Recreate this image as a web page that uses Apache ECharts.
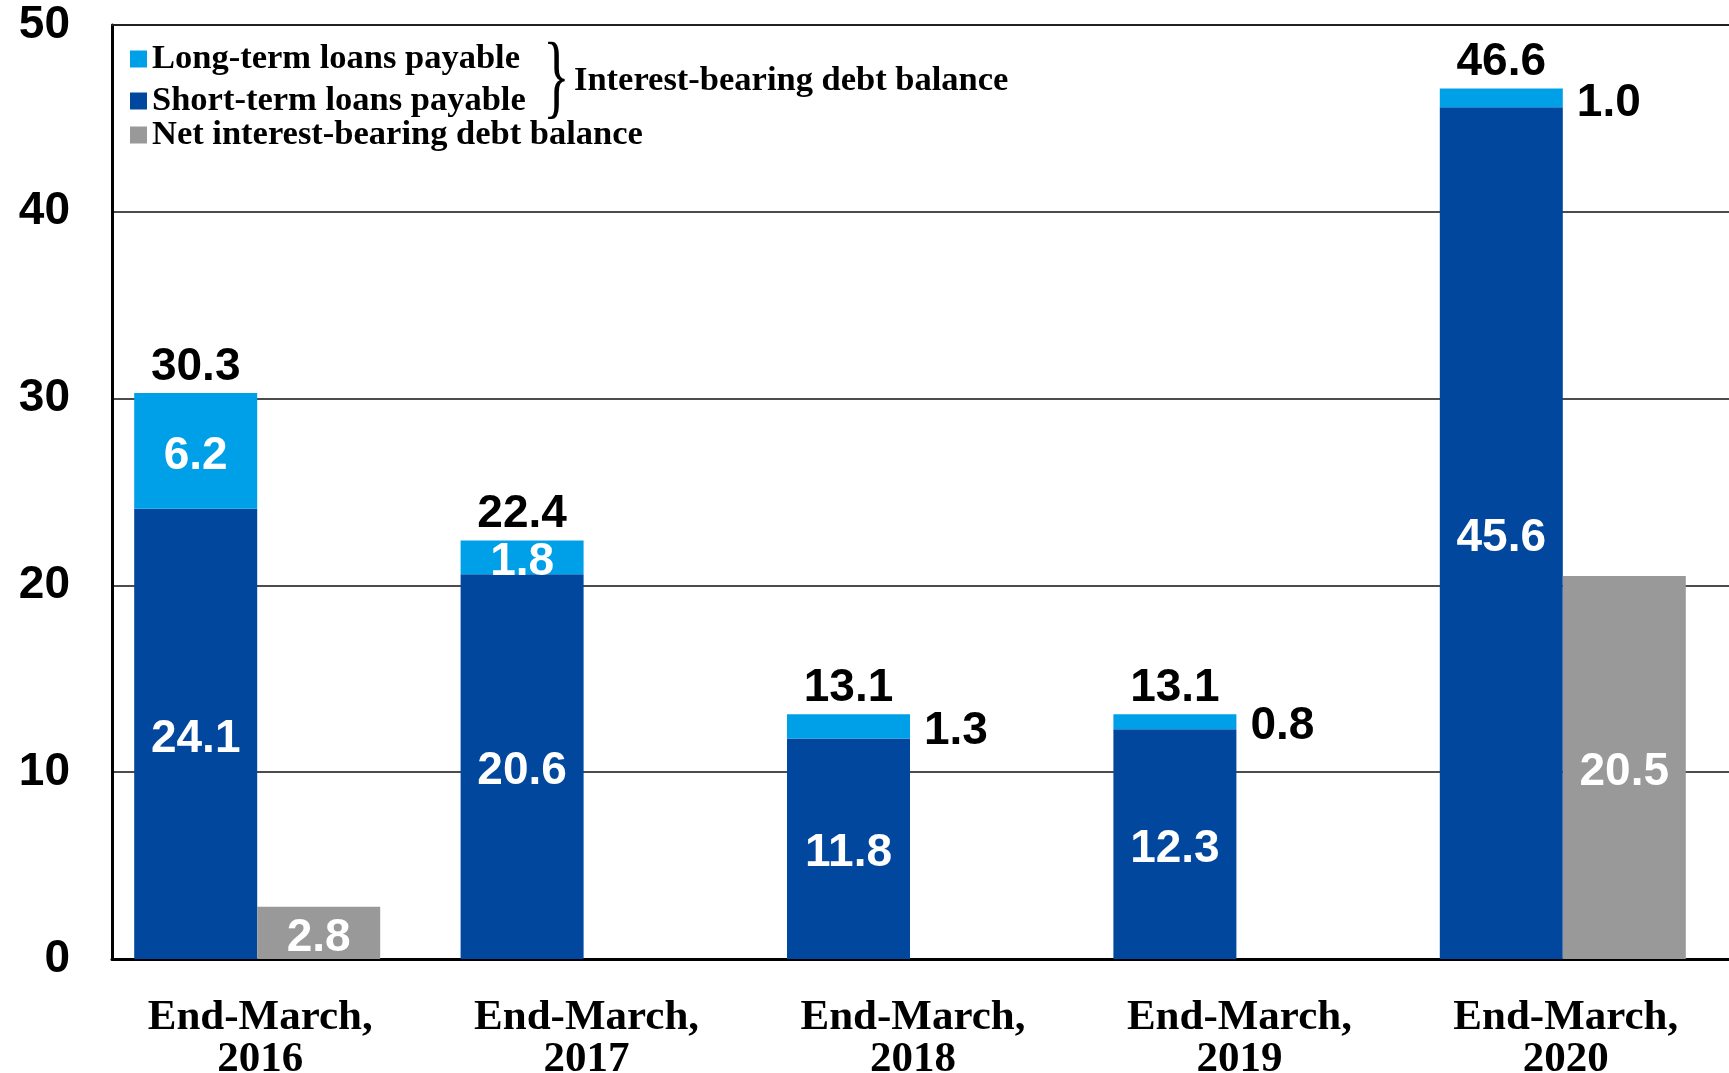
<!DOCTYPE html>
<html>
<head>
<meta charset="utf-8">
<script src="https://cdn.jsdelivr.net/npm/echarts@6/dist/echarts.min.js"></script>
<style>
html,body{margin:0;padding:0;background:#fff;}
#chart{width:1729px;height:1073px;}
</style>
</head>
<body>
<div id="chart"></div>
<script>
const categories = ['End-March,\n2016', 'End-March,\n2017', 'End-March,\n2018', 'End-March,\n2019', 'End-March,\n2020'];
const shortTerm = [24.1, 20.6, 11.8, 12.3, 45.6];
const longTerm = [6.2, 1.8, 1.3, 0.8, 1.0];
const totals = [30.3, 22.4, 13.1, 13.1, 46.6];
const netDebt = [2.8, null, null, null, 20.5];
const yMin = 0, yMax = 50, yStep = 10;

const names = {
  long: 'Long-term loans payable',
  short: 'Short-term loans payable',
  net: 'Net interest-bearing debt balance',
  total: 'Interest-bearing debt balance'
};

const C_LONG = '#00A0E9', C_SHORT = '#00479D', C_NET = '#999999';
const SANS = '"Liberation Sans", Arial, sans-serif';
const SERIF = '"Liberation Serif", "Times New Roman", serif';
const BW = 123;
const LEG_FS = 34.5;

const chart = echarts.init(document.getElementById('chart'), null, {renderer: 'canvas'});

const valLabel = {
  show: true, fontFamily: SANS, fontWeight: 'bold', fontSize: 46, lineHeight: 46,
  offset: [0, 5],
  formatter: p => (p.value == null ? '' : Number(p.value).toFixed(1))
};

const option = {
  animation: false,
  backgroundColor: '#fff',
  grid: [
    {left: 112, right: -4, top: 25, bottom: 114, outerBoundsMode: 'none', containLabel: false},
    {left: 94, right: 3, top: 25, bottom: 114, outerBoundsMode: 'none', containLabel: false}
  ],
  xAxis: [
    {gridIndex: 0, type: 'value', min: 0, max: 1, axisLabel: {show: false}, axisTick: {show: false},
     splitLine: {show: false}, axisLine: {show: true, lineStyle: {color: '#000', width: 3}}},
    {gridIndex: 0, type: 'value', position: 'top', min: 0, max: 1, axisLabel: {show: false}, axisTick: {show: false},
     splitLine: {show: false}, axisLine: {show: true, lineStyle: {color: '#222', width: 2}}},
    {gridIndex: 1, type: 'category', data: categories, axisLine: {show: false}, axisTick: {show: false},
     axisLabel: {margin: 38, color: '#000', fontFamily: SERIF, fontWeight: 'bold', fontSize: 43, lineHeight: 42,
                 padding: [0, 0, 0, 6], interval: 0}}
  ],
  yAxis: [
    {gridIndex: 0, type: 'value', min: yMin, max: yMax, interval: yStep,
     axisLine: {show: true, lineStyle: {color: '#000', width: 3}}, axisTick: {show: false},
     splitLine: {show: true, lineStyle: {color: '#111', width: 1.5}},
     axisLabel: {margin: 42, color: '#000', fontFamily: SANS, fontWeight: 'bold', fontSize: 46}},
    {gridIndex: 1, type: 'value', min: yMin, max: yMax, interval: yStep, show: false}
  ],
  legend: [
    {data: [names.long, names.short], orient: 'vertical', left: 130, top: 41, padding: 0,
     itemWidth: 17, itemHeight: 17, itemGap: 6, icon: 'rect', selectedMode: false,
     textStyle: {fontFamily: SERIF, fontWeight: 'bold', fontSize: LEG_FS, lineHeight: 36, color: '#000'}},
    {data: [names.net], orient: 'vertical', left: 130, top: 117, padding: 0,
     itemWidth: 17, itemHeight: 17, icon: 'rect', selectedMode: false,
     textStyle: {fontFamily: SERIF, fontWeight: 'bold', fontSize: LEG_FS, lineHeight: 36, color: '#000'}}
  ],
  graphic: [
    {type: 'text', left: 543, top: 36, style: {text: '}', font: 'normal 93px ' + SERIF, fill: '#000'}, scaleX: 0.6},
    {type: 'text', left: 574, top: 64, style: {text: names.total, font: 'bold ' + LEG_FS + 'px ' + SERIF, fill: '#000'}}
  ],
  series: [
    {name: names.short, type: 'bar', xAxisIndex: 2, yAxisIndex: 1, stack: 'debt', barWidth: BW, barGap: '0%',
     itemStyle: {color: C_SHORT}, data: shortTerm,
     label: Object.assign({}, valLabel, {position: 'inside', color: '#fff'})},
    {name: names.long, type: 'bar', xAxisIndex: 2, yAxisIndex: 1, stack: 'debt', barWidth: BW, barGap: '0%',
     itemStyle: {color: C_LONG},
     data: longTerm.map(v => ({value: v,
       label: v < 1.5 ? {position: 'right', color: '#000', distance: 14} : {position: 'inside', color: '#fff'}})),
     label: Object.assign({}, valLabel)},
    {name: 'total', type: 'bar', xAxisIndex: 2, yAxisIndex: 1, stack: 'debt', barWidth: BW, barGap: '0%',
     itemStyle: {color: 'transparent'}, data: totals.map(() => 0),
     label: Object.assign({}, valLabel, {position: 'top', distance: 3, offset: [0, 0], color: '#000',
       formatter: p => totals[p.dataIndex].toFixed(1)})},
    {name: names.net, type: 'bar', xAxisIndex: 2, yAxisIndex: 1, barWidth: BW, barGap: '0%',
     itemStyle: {color: C_NET}, data: netDebt,
     label: Object.assign({}, valLabel, {position: 'inside', color: '#fff'})}
  ]
};
chart.setOption(option);
</script>
</body>
</html>
